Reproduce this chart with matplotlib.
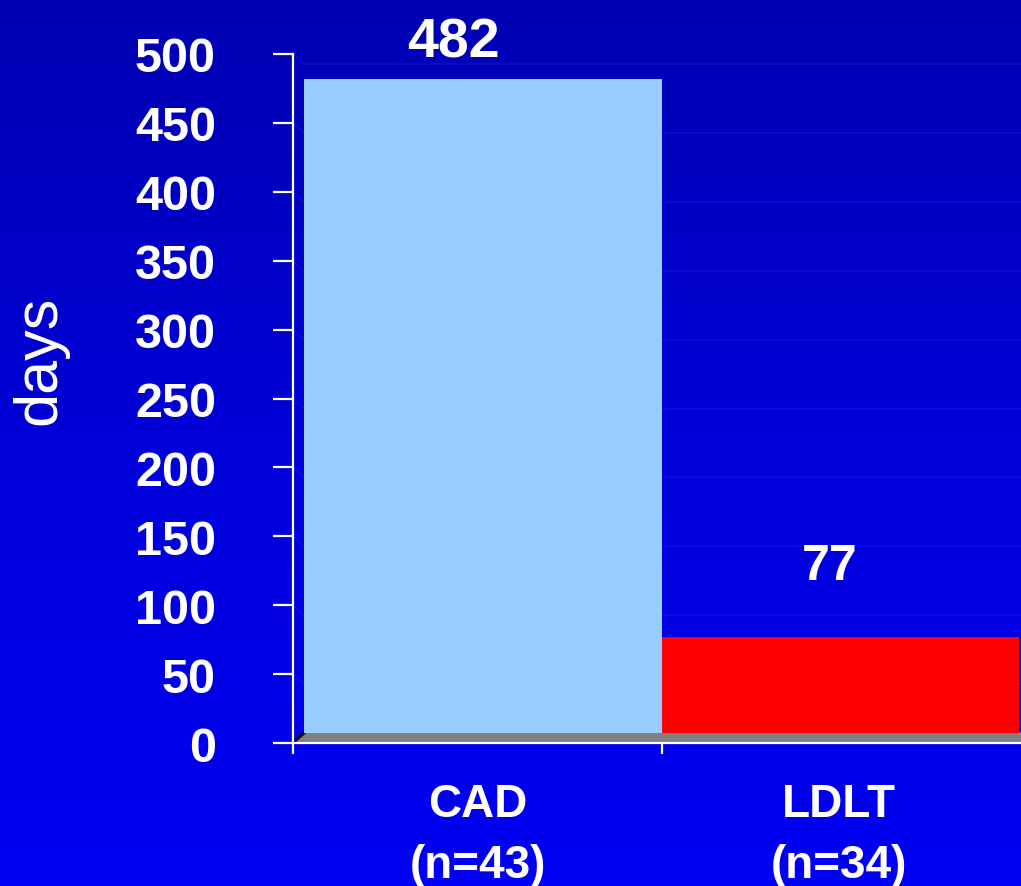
import numpy as np
import matplotlib
matplotlib.use("Agg")
import matplotlib.pyplot as plt
from matplotlib.colors import LinearSegmentedColormap

categories = ["CAD\n(n=43)", "LDLT\n(n=34)"]
values = [482, 77]
value_labels = ["482", "77"]
yticks = [0, 50, 100, 150, 200, 250, 300, 350, 400, 450, 500]
bar_colors = ["#99CCFF", "#FF0000"]

plt.rcParams['font.family'] = ['Liberation Sans', 'DejaVu Sans']

W, H = 1021, 887
fig = plt.figure(figsize=(W / 100, H / 100), dpi=100)

# background gradient
bg = fig.add_axes([0, 0, 1, 1], zorder=0)
cmap = LinearSegmentedColormap.from_list("bg", ["#0000B2", "#0000D8", "#0000F4"])
grad = np.linspace(0, 1, 256).reshape(-1, 1)
bg.imshow(grad, aspect="auto", cmap=cmap, extent=[0, 1, 0, 1], origin="upper")
bg.axis("off")

ax = fig.add_axes([293 / W, 1 - 744 / H, 738 / W, (744 - 55) / H], zorder=1)
ax.patch.set_alpha(0)
ax.set_xlim(0, 2)
ax.set_ylim(0, 500)

depth_x, depth_y = 0.03, 7.3

# faint 3D back-wall gridlines
for t in yticks[1:]:
    ax.plot([0, depth_x, 2.2], [t, t - depth_y, t - depth_y], color="#2020FF",
            lw=1.3, alpha=0.35, zorder=1, clip_on=False)

# floor
ax.fill([0, depth_x, 2.2, 2.2], [0, depth_y, depth_y, 0], color="#808080",
        zorder=2, clip_on=False)
ax.plot([0, depth_x], [0, depth_y], color="black", lw=2, zorder=3)

# bars
lefts = [depth_x, 1.0]
widths = [1.0 - depth_x, 0.967]
for l, w, v, c in zip(lefts, widths, values, bar_colors):
    ax.bar(l, v - depth_y, width=w, bottom=depth_y, align="edge", color=c,
           zorder=4, linewidth=0)

# value labels
label_x = [0.434, 1.455]
label_dy = [16.5, 42]
label_sizes = [40, 36]
for x, v, s, dy, fs in zip(label_x, values, value_labels, label_dy, label_sizes):
    ax.text(x, v + dy, s, ha="center", va="baseline", color="white",
            fontsize=fs, fontweight="bold", zorder=5, clip_on=False)

# spines
for s in ["top", "right"]:
    ax.spines[s].set_visible(False)
for s in ["left", "bottom"]:
    ax.spines[s].set_color("white")
    ax.spines[s].set_linewidth(1.6)
    ax.spines[s].set_zorder(6)

ax.set_yticks(yticks)
ax.set_yticklabels([str(t) for t in yticks])
ax.tick_params(axis="y", direction="out", length=14.5, width=1.6, color="white",
               labelcolor="white", labelsize=35, pad=41)
for lab in ax.get_yticklabels():
    lab.set_fontweight("bold")

ax.set_xticks([0, 1, 2])
ax.set_xticklabels(["", "", ""])
ax.tick_params(axis="x", which="major", direction="out", length=8, width=1.6,
               color="white")
ax.set_xticks([0.5, 1.48], minor=True)
ax.set_xticklabels(categories, minor=True)
ax.tick_params(axis="x", which="minor", length=0, labelcolor="white",
               labelsize=33, pad=28)
for lab in ax.get_xticklabels(minor=True):
    lab.set_fontweight("bold")
    lab.set_linespacing(1.5)

fig.text(40 / W, 1 - 360 / H, "days", rotation=90, ha="center", va="center",
         color="white", fontsize=44)

fig.savefig("out.png", dpi=100)
